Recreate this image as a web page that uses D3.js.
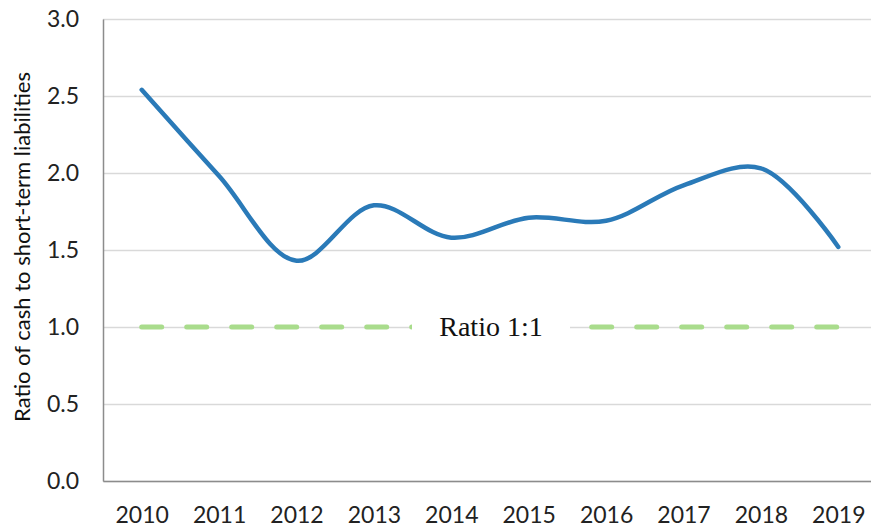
<!DOCTYPE html>
<html>
<head>
<meta charset="utf-8">
<script src="https://cdn.jsdelivr.net/npm/d3@7"></script>
<style>
  body { margin: 0; background: #fff; }
  svg { display: block; }
</style>
</head>
<body>
<div id="chart"></div>
<script>
const years = ["2010", "2011", "2012", "2013", "2014", "2015", "2016", "2017", "2018", "2019"];
const cashRatio = [2.54, 1.98, 1.43, 1.79, 1.58, 1.71, 1.69, 1.92, 2.03, 1.52];
const refRatio = [1, 1, 1, 1, 1, 1, 1, 1, 1, 1];
const yTicks = [0, 0.5, 1.0, 1.5, 2.0, 2.5, 3.0];
const refLabel = "Ratio 1:1";
const yTitle = "Ratio of cash to short-term liabilities";

const W = 871, H = 529;
const margin = {top: 19, right: -6, bottom: 48, left: 103},
    width = W - margin.left - margin.right,
    height = H - margin.top - margin.bottom;

const svg = d3.select("#chart")
    .append("svg")
    .attr("width", W)
    .attr("height", H)
    .append("g")
    .attr("transform", `translate(${margin.left},${margin.top})`);

let x = d3.scalePoint()
    .domain(years)
    .range([0, width])
    .padding(0.5);

let y = d3.scaleLinear()
    .domain([0, 3])
    .range([height, 0]);

// gridlines
svg.append("g")
    .call(d3.axisLeft(y).tickValues(yTicks).tickSize(-width).tickFormat(""))
    .call(g => g.select(".domain").remove())
    .selectAll("line")
    .attr("stroke", "#d9d9d9")
    .attr("stroke-width", 1.3);

// y axis
svg.append("g")
    .call(d3.axisLeft(y).tickValues(yTicks).tickSize(0).tickPadding(24).tickFormat(d3.format(".1f")))
    .call(g => g.select(".domain").attr("stroke", "#8c8c8c").attr("stroke-width", 1.5))
    .selectAll("text")
    .style("font-family", "Lato, sans-serif")
    .style("font-size", "23px")
    .attr("fill", "#222");

// x axis
svg.append("g")
    .attr("transform", `translate(0,${height})`)
    .call(d3.axisBottom(x).tickSize(0).tickPadding(26))
    .call(g => g.select(".domain").attr("stroke", "#8c8c8c").attr("stroke-width", 1.5))
    .selectAll("text")
    .style("font-family", "Lato, sans-serif")
    .style("font-size", "23px")
    .attr("fill", "#222");

// 1:1 reference line
let refLine = d3.line()
    .x((d, i) => x(years[i]))
    .y(d => y(d));

svg.append("path")
    .datum(refRatio)
    .attr("fill", "none")
    .attr("stroke", "#a9dc8c")
    .attr("stroke-width", 5)
    .attr("stroke-linecap", "round")
    .attr("stroke-dasharray", "20,25")
    .attr("d", refLine);

// label box over the reference line
let lx = (x("2014") + x("2015")) / 2;
svg.append("rect")
    .attr("x", lx - 78)
    .attr("y", y(1) - 22)
    .attr("width", 158)
    .attr("height", 44)
    .attr("fill", "#fff");

svg.append("text")
    .attr("x", lx + 1)
    .attr("y", y(1) + 9)
    .attr("text-anchor", "middle")
    .style("font-family", "'Liberation Serif', serif")
    .style("font-size", "28px")
    .attr("fill", "#111")
    .text(refLabel);

// cash ratio line
let line = d3.line()
    .x((d, i) => x(years[i]))
    .y(d => y(d))
    .curve(d3.curveCatmullRom);

svg.append("path")
    .datum(cashRatio)
    .attr("fill", "none")
    .attr("stroke", "#2a7ab8")
    .attr("stroke-width", 4.5)
    .attr("stroke-linecap", "round")
    .attr("d", line);

// y title, sized to span the same length as the original
let title = svg.append("text")
    .attr("transform", `translate(${22 - margin.left},${247 - margin.top}) rotate(-90)`)
    .attr("text-anchor", "middle")
    .attr("dy", "0.35em")
    .style("font-family", "Lato, sans-serif")
    .style("font-size", "19px")
    .attr("fill", "#111")
    .text(yTitle);
let len = title.node().getComputedTextLength();
title.style("font-size", (19 * 350 / len).toFixed(2) + "px");
</script>
</body>
</html>
